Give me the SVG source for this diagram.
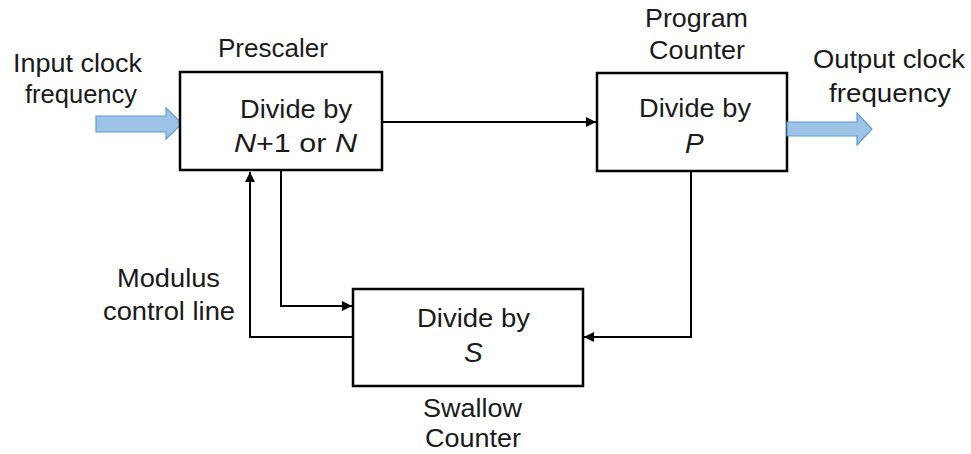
<svg xmlns="http://www.w3.org/2000/svg" width="971" height="454" viewBox="0 0 971 454">
<defs>
<style>
.t{font-family:"Liberation Sans",Arial,sans-serif;font-size:25px;fill:#1a1a1a}
.i{font-style:italic}
.big{font-size:28px}
.box{fill:#fff;stroke:#000;stroke-width:2.5}
.conn{fill:none;stroke:#000;stroke-width:2}
.blk{fill:#9DC3E6;stroke:#5B9BD5;stroke-width:1.2}
</style>
<marker id="ah" viewBox="0 0 10 10" refX="10" refY="5" markerWidth="5.5" markerHeight="5" orient="auto" markerUnits="strokeWidth">
<path d="M0,0 L10,5 L0,10 z" fill="#000"/>
</marker>
</defs>
<rect width="971" height="454" fill="#fff"/>
<g id="connectors">
<path class="conn" d="M382,122 H596" marker-end="url(#ah)"/>
<path class="conn" d="M281,171 V306 H352" marker-end="url(#ah)"/>
<path class="conn" d="M353,337 H250 V172" marker-end="url(#ah)"/>
<path class="conn" d="M691,172 V337 H584" marker-end="url(#ah)"/>
</g>
<g id="input">
<path class="blk" d="M96,116 H166 V108 L182,123.5 L166,139 V132 H96 Z"/>
<text class="t" x="13" y="72" textLength="129" lengthAdjust="spacingAndGlyphs">Input clock</text>
<text class="t" x="25" y="103" textLength="112" lengthAdjust="spacingAndGlyphs">frequency</text>
</g>
<g id="prescaler">
<rect class="box" x="180" y="72" width="202" height="98"/>
<text class="t" x="218" y="57" textLength="110" lengthAdjust="spacingAndGlyphs">Prescaler</text>
<text class="t" x="240" y="118" textLength="112" lengthAdjust="spacingAndGlyphs">Divide by</text>
<text class="t" x="234" y="152" textLength="123" lengthAdjust="spacingAndGlyphs"><tspan class="i">N</tspan>+1 or <tspan class="i">N</tspan></text>
</g>
<g id="program">
<rect class="box" x="597" y="73" width="190" height="98"/>
<text class="t" x="645" y="27" textLength="103" lengthAdjust="spacingAndGlyphs">Program</text>
<text class="t" x="649" y="59" textLength="96" lengthAdjust="spacingAndGlyphs">Counter</text>
<text class="t" x="639" y="117" textLength="112" lengthAdjust="spacingAndGlyphs">Divide by</text>
<text class="t i big" x="685" y="153">P</text>
</g>
<g id="output">
<path class="blk" d="M787,122 H857 V113 L872,129 L857,145 V136 H787 Z"/>
<text class="t" x="813" y="68" textLength="152" lengthAdjust="spacingAndGlyphs">Output clock</text>
<text class="t" x="829" y="102" textLength="122" lengthAdjust="spacingAndGlyphs">frequency</text>
</g>
<g id="swallow">
<rect class="box" x="353" y="289" width="230" height="97"/>
<text class="t" x="417" y="327" textLength="113" lengthAdjust="spacingAndGlyphs">Divide by</text>
<text class="t i big" x="464" y="362">S</text>
<text class="t" x="423" y="417" textLength="99" lengthAdjust="spacingAndGlyphs">Swallow</text>
<text class="t" x="425" y="447" textLength="96" lengthAdjust="spacingAndGlyphs">Counter</text>
</g>
<g id="modulus-label">
<text class="t" x="117" y="287" textLength="103" lengthAdjust="spacingAndGlyphs">Modulus</text>
<text class="t" x="103" y="320" textLength="132" lengthAdjust="spacingAndGlyphs">control line</text>
</g>
</svg>
